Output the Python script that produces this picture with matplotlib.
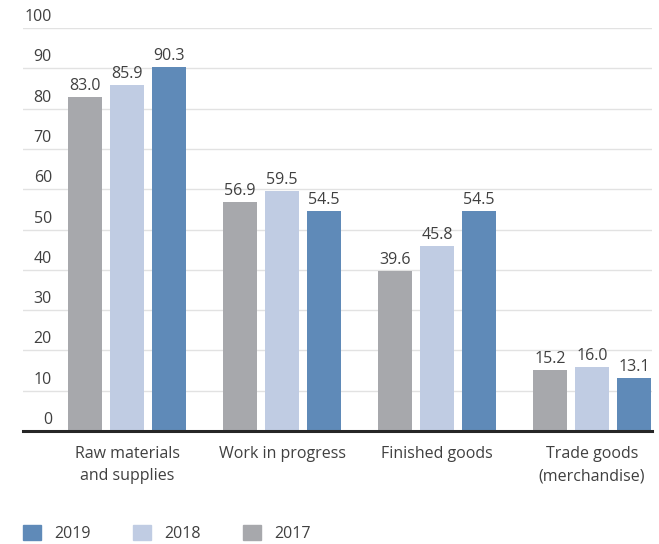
import matplotlib
matplotlib.use("Agg")
import matplotlib.pyplot as plt
import numpy as np
from matplotlib.patches import Patch

categories = ["Raw materials\nand supplies", "Work in progress", "Finished goods", "Trade goods\n(merchandise)"]
years = ["2017", "2018", "2019"]
values_2017 = [83.0, 56.9, 39.6, 15.2]
values_2018 = [85.9, 59.5, 45.8, 16.0]
values_2019 = [90.3, 54.5, 54.5, 13.1]
y_ticks = [0, 10, 20, 30, 40, 50, 60, 70, 80, 90, 100]

colors = {"2017": "#a7a8ac", "2018": "#c0cce3", "2019": "#5f8ab8"}
text_color = "#404040"
fs = 11.5

plt.rcParams["font.family"] = ["Open Sans", "DejaVu Sans"]
plt.rcParams["font.size"] = fs

fig = plt.figure(figsize=(6.59, 5.44), dpi=100)
ax = fig.add_axes([23 / 659, 113 / 544, 629 / 659, 403 / 544])

x = np.arange(len(categories))
width = 0.219
step = 0.271
series = [("2017", values_2017), ("2018", values_2018), ("2019", values_2019)]
for i, (year, vals) in enumerate(series):
    pos = x + (i - 1) * step
    ax.bar(pos, vals, width=width, color=colors[year], zorder=2)
    for px, v in zip(pos, vals):
        ax.annotate(f"{v:.1f}", (px, v), xytext=(0, 5), textcoords="offset points",
                    ha="center", va="baseline", color=text_color, fontsize=fs)

ax.set_xlim(-0.671, 3.387)
ax.set_ylim(0, 100)

# gridlines with labels sitting just above each line
for t in y_ticks[1:]:
    ax.axhline(t, color="#e2e2e2", linewidth=1.0, zorder=1)
for t in y_ticks:
    ax.annotate(str(t), (0.046, t), xycoords=ax.get_yaxis_transform(), xytext=(0, 5),
                textcoords="offset points", ha="right", va="baseline",
                color=text_color, fontsize=fs, annotation_clip=False)
ax.axhline(0, color="#262626", linewidth=2.2, zorder=3, clip_on=False)

ax.set_yticks([])
ax.set_xticks(x)
ax.set_xticklabels(categories, color=text_color, fontsize=fs, linespacing=1.5)
ax.tick_params(axis="x", length=0, pad=11)
for s in ax.spines.values():
    s.set_visible(False)

handles = [Patch(color=colors[y]) for y in ["2019", "2018", "2017"]]
fig.legend(handles, ["2019", "2018", "2017"], loc="lower left", ncol=3,
           bbox_to_anchor=(9 / 659, -12 / 544), frameon=False,
           handlelength=1.1, handleheight=1.1, handletextpad=0.85,
           columnspacing=2.65, labelcolor=text_color, fontsize=fs)

fig.savefig("out.png", dpi=100)
